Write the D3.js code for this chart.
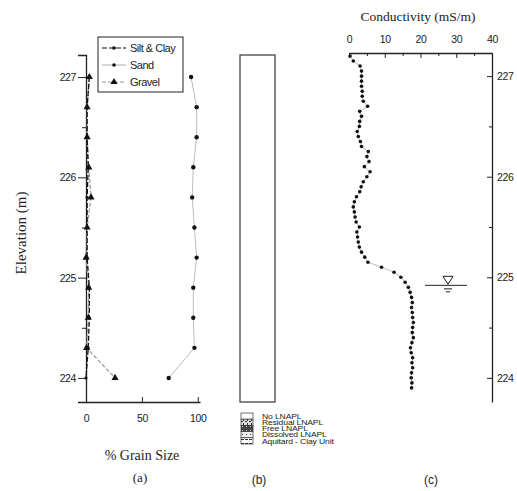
<!DOCTYPE html>
<html>
<head>
<meta charset="utf-8">
<script src="https://cdn.jsdelivr.net/npm/d3@7"></script>
<style>
body { margin: 0; background: #fff; }
.tick text { font-family: "Liberation Sans", Arial, sans-serif; font-size: 10.5px; letter-spacing: -0.4px; fill: #222; }
.domain, .tick line { stroke: #222; }
.serif { font-family: "Liberation Serif", "Times New Roman", serif; fill: #222; }
.sans { font-family: "Liberation Sans", Arial, sans-serif; fill: #222; }
</style>
</head>
<body>
<div class="container"></div>
<script>
const WIDTH = 517, HEIGHT = 491;

// panel (a) grain size, sampled every 0.3 m
const grainElev = [227.0, 226.7, 226.4, 226.1, 225.8, 225.5, 225.2, 224.9, 224.6, 224.3, 224.0];
const siltClay = [3, 1, 1, 2, 1, 1, 1, 3, 3, 2, 0];
const sand = [94, 99, 99, 96, 95, 97, 99, 96, 96, 97, 74];
const gravel = [3, 1, 1, 2.5, 4.5, 1, 0, 2.4, 2, 0.5, 26];
const grainTicks = [0, 50, 100];
const elevTicks = [224, 225, 226, 227];

// panel (b) legend
const lnaplClasses = ["No LNAPL", "Residual LNAPL", "Free LNAPL", "Dissolved LNAPL", "Aquitard - Clay Unit"];

// panel (c) conductivity, every 0.05 m from 227.2 down
const condTop = 227.2, condStep = 0.05;
const conductivity = [0.3, 1.2, 3.1, 3.5, 3.5, 3.5, 3.5, 3.7, 3.7, 4.0,
  5.2, 3.0, 3.5, 3.0, 2.9, 2.3, 2.6, 3.2, 3.5, 5.4,
  5.0, 5.6, 4.3, 5.9, 5.0, 4.0, 3.4, 3.0, 2.1, 1.5,
  1.2, 1.5, 1.7, 2.0, 2.9, 2.2, 2.4, 2.6, 2.9, 3.5,
  4.4, 5.3, 9.1, 12.6, 14.5, 15.7, 16.6, 17.1, 17.5, 17.7,
  17.5, 17.7, 17.8, 18.0, 17.8, 17.7, 18.0, 17.6, 17.2, 17.4,
  17.8, 17.6, 17.8, 17.5, 17.4, 17.6, 17.5];
const condTicks = [0, 10, 20, 30, 40];
const waterTable = 224.92;

const svg = d3.select('.container').append('svg')
  .attr('width', WIDTH).attr('height', HEIGHT);

// ---------- panel (a)
const yA = d3.scaleLinear().domain([223.76, 227.22]).range([402, 55]);
const xA = d3.scaleLinear().domain([0, 102]).range([86, 200]);

svg.append('g').attr('transform', 'translate(86,0)')
  .call(d3.axisLeft(yA).tickValues(elevTicks).tickFormat(d3.format('d')).tickSize(8).tickPadding(2));
svg.append('g').attr('transform', 'translate(86,0)')
  .call(d3.axisLeft(yA).tickValues([224.5, 225.5, 226.5]).tickFormat('').tickSize(4))
  .select('.domain').remove();
svg.append('g').attr('transform', 'translate(0,402)')
  .call(d3.axisBottom(xA).tickValues(grainTicks).tickSizeInner(-5).tickSizeOuter(0).tickPadding(13));
svg.selectAll('.domain').attr('stroke-width', 1.3);

const lineA = vals => d3.line().x(d => xA(d)).y((d, i) => yA(grainElev[i]))(vals);

svg.append('path').attr('d', lineA(sand)).attr('fill', 'none').attr('stroke', '#bbb').attr('stroke-width', 1);
svg.append('path').attr('d', lineA(gravel)).attr('fill', 'none').attr('stroke', '#999').attr('stroke-width', 1.2).attr('stroke-dasharray', '4,2');
svg.append('path').attr('d', lineA(siltClay)).attr('fill', 'none').attr('stroke', '#111').attr('stroke-width', 1.3).attr('stroke-dasharray', '5,2');

svg.append('g').selectAll('circle').data(sand).join('circle')
  .attr('cx', d => xA(d)).attr('cy', (d, i) => yA(grainElev[i])).attr('r', 2.2).attr('fill', '#111');
svg.append('g').selectAll('circle').data(siltClay).join('circle')
  .attr('cx', d => xA(d)).attr('cy', (d, i) => yA(grainElev[i])).attr('r', 1.6).attr('fill', '#111');
const tri = d3.symbol().type(d3.symbolTriangle).size(22);
svg.append('g').selectAll('path').data(gravel).join('path')
  .attr('d', tri).attr('fill', '#111')
  .attr('transform', (d, i) => 'translate(' + xA(d) + ',' + yA(grainElev[i]) + ')');

// legend (a)
const lg = svg.append('g').attr('transform', 'translate(98,37)');
lg.append('rect').attr('width', 85).attr('height', 55).attr('fill', '#fff').attr('stroke', '#222').attr('stroke-width', 1);
const legItems = [
  {name: 'Silt & Clay', stroke: '#111', dash: '5,2', mark: 'dot'},
  {name: 'Sand', stroke: '#bbb', dash: null, mark: 'dot'},
  {name: 'Gravel', stroke: '#999', dash: '4,2', mark: 'tri'}
];
legItems.forEach((it, i) => {
  const y = 11 + i * 17;
  lg.append('line').attr('x1', 4).attr('x2', 28).attr('y1', y).attr('y2', y)
    .attr('stroke', it.stroke).attr('stroke-width', 1.2).attr('stroke-dasharray', it.dash);
  if (it.mark === 'dot') lg.append('circle').attr('cx', 16).attr('cy', y).attr('r', 1.8).attr('fill', '#111');
  else lg.append('path').attr('d', tri).attr('fill', '#111').attr('transform', 'translate(16,' + y + ')');
  lg.append('text').attr('class', 'sans').attr('x', 32).attr('y', y + 4)
    .attr('font-size', 11).attr('letter-spacing', -0.5).text(it.name);
});

svg.append('text').attr('class', 'serif').attr('font-size', 15)
  .attr('transform', 'translate(26,' + 233 + ') rotate(-90)').attr('text-anchor', 'middle').text('Elevation (m)');
svg.append('text').attr('class', 'serif').attr('font-size', 14).attr('x', 142).attr('y', 460)
  .attr('text-anchor', 'middle').text('% Grain Size');
svg.append('text').attr('class', 'serif').attr('font-size', 13).attr('x', 140).attr('y', 482)
  .attr('text-anchor', 'middle').text('(a)');

// ---------- panel (b)
svg.append('rect').attr('x', 240).attr('y', 55).attr('width', 35).attr('height', 347)
  .attr('fill', '#fff').attr('stroke', '#444').attr('stroke-width', 1.3);

const defs = svg.append('defs');
const pat = (id, draw) => {
  const p = defs.append('pattern').attr('id', id).attr('patternUnits', 'userSpaceOnUse').attr('width', 4).attr('height', 4);
  draw(p);
};
pat('resid', p => {
  p.append('rect').attr('width', 4).attr('height', 4).attr('fill', '#ddd');
  p.append('rect').attr('x', 0).attr('y', 0).attr('width', 2).attr('height', 1).attr('fill', '#333');
  p.append('rect').attr('x', 2).attr('y', 2).attr('width', 1).attr('height', 2).attr('fill', '#333');
});
pat('free', p => {
  p.append('rect').attr('width', 4).attr('height', 4).attr('fill', '#444');
  p.append('rect').attr('x', 1).attr('y', 1).attr('width', 1).attr('height', 1).attr('fill', '#ccc');
});
pat('diss', p => {
  p.append('rect').attr('width', 4).attr('height', 4).attr('fill', '#eee');
  p.append('rect').attr('x', 1).attr('y', 1).attr('width', 1).attr('height', 1).attr('fill', '#333');
});
pat('clay', p => {
  p.append('rect').attr('width', 4).attr('height', 4).attr('fill', '#fff');
  p.append('rect').attr('x', 0).attr('y', 2).attr('width', 3).attr('height', 1).attr('fill', '#333');
});
const fills = ['#fff', 'url(#resid)', 'url(#free)', 'url(#diss)', 'url(#clay)'];
const lb = svg.append('g').attr('transform', 'translate(241,413)');
lnaplClasses.forEach((name, i) => {
  lb.append('rect').attr('x', 0).attr('y', i * 6.2).attr('width', 12).attr('height', 6.2)
    .attr('fill', fills[i]).attr('stroke', '#333').attr('stroke-width', 0.7);
  lb.append('text').attr('class', 'sans')
    .attr('transform', 'translate(21,' + (i * 6.2 + 5.8) + ') scale(1.3,1)')
    .attr('font-size', 6.6).attr('letter-spacing', -0.1).text(name);
});
svg.append('text').attr('class', 'sans').attr('font-size', 12).attr('x', 259).attr('y', 484)
  .attr('text-anchor', 'middle').text('(b)');

// ---------- panel (c)
const yC = d3.scaleLinear().domain([223.76, 227.23]).range([402, 53]);
const xC = d3.scaleLinear().domain([0, 40]).range([349, 492]);

svg.append('g').attr('transform', 'translate(0,53)')
  .call(d3.axisTop(xC).tickValues(condTicks).tickSizeInner(-5).tickSizeOuter(0).tickPadding(10));
svg.append('g').attr('transform', 'translate(0,53)')
  .call(d3.axisTop(xC).tickValues([5, 15, 25, 35]).tickFormat('').tickSize(-3))
  .select('.domain').remove();
svg.append('g').attr('transform', 'translate(492,0)')
  .call(d3.axisRight(yC).tickValues(elevTicks).tickFormat(d3.format('d')).tickSizeInner(-5).tickSizeOuter(0).tickPadding(5));
svg.append('g').attr('transform', 'translate(492,0)')
  .call(d3.axisRight(yC).tickValues([224.5, 225.5, 226.5]).tickFormat('').tickSize(-3))
  .select('.domain').remove();
svg.selectAll('.domain').attr('stroke-width', 1.3);

const condElev = conductivity.map((d, i) => condTop - i * condStep);
svg.append('path')
  .attr('d', d3.line().x(d => xC(d)).y((d, i) => yC(condElev[i]))(conductivity))
  .attr('fill', 'none').attr('stroke', '#aaa').attr('stroke-width', 0.8);
svg.append('g').selectAll('circle').data(conductivity).join('circle')
  .attr('cx', d => xC(d)).attr('cy', (d, i) => yC(condElev[i])).attr('r', 1.8).attr('fill', '#111');

// water table symbol
const wy = yC(waterTable), wx = 448;
const wt = svg.append('g').attr('stroke', '#222').attr('fill', 'none').attr('stroke-width', 1);
wt.append('line').attr('x1', 425).attr('x2', 467).attr('y1', wy).attr('y2', wy);
wt.append('path').attr('d', 'M' + (wx - 5) + ',' + (wy - 9) + 'L' + (wx + 5) + ',' + (wy - 9) + 'L' + wx + ',' + (wy - 1) + 'Z');
wt.append('line').attr('x1', wx - 4).attr('x2', wx + 4).attr('y1', wy + 3.5).attr('y2', wy + 3.5);
wt.append('line').attr('x1', wx - 2).attr('x2', wx + 2).attr('y1', wy + 6.5).attr('y2', wy + 6.5);

svg.append('text').attr('class', 'serif').attr('font-size', 13.5).attr('x', 418).attr('y', 21)
  .attr('text-anchor', 'middle').text('Conductivity (mS/m)');
svg.append('text').attr('class', 'sans').attr('font-size', 12).attr('x', 431).attr('y', 484)
  .attr('text-anchor', 'middle').text('(c)');
</script>
</body>
</html>
